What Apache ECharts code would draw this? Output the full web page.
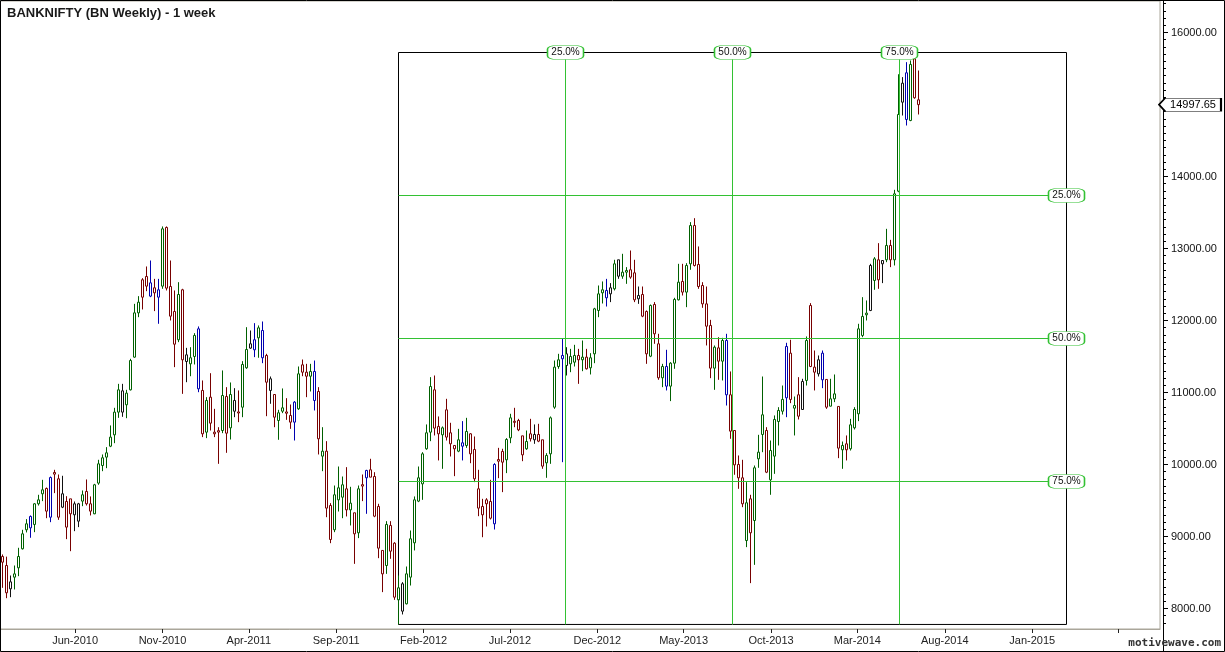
<!DOCTYPE html>
<html>
<head>
<meta charset="utf-8">
<script src="https://cdn.jsdelivr.net/npm/echarts@6/dist/echarts.min.js"></script>
<style>
html,body{margin:0;padding:0;background:#fff;}
#chart{width:1225px;height:652px;}
</style>
</head>
<body>
<div id="chart"></div>
<script>
// ---- Data (weekly candles, first week starting 2010-01-25) ----
const firstWeek = '2010-01-25';
const opens = [
8722,8597,8273,8435,8565,8829,9093,9120,9167,9454,
9593,9667,9268,9889,9801,9407,9486,9315,9301,9454,
9491,9625,9454,9315,9741,9986,10102,10254,10412,10727,
11023,10829,11037,11491,12106,12324,12611,12523,12384,12426,
12477,13292,12472,12125,11732,12426,11523,11398,11500,11884,
11028,10449,10935,10449,10470,10472,10944,10509,10889,10730,
10796,11343,11616,11593,11759,11861,11514,11190,10972,10611,
10740,10730,10681,10588,10773,11282,11282,11226,11292,11014,
10185,10185,9431,9093,9509,9546,9662,9370,9329,9051,
9700,9815,9926,9833,9417,8806,8597,9153,8907,8120,
8343,8065,8435,8912,9491,9731,10218,10449,11037,10528,
10412,10759,10440,10264,10185,10301,10264,10426,10208,9662,
9417,9454,9486,9176,10069,10181,10065,10370,10600,10611,
10398,10218,10357,10343,10417,10343,10023,10148,10796,11361,
11468,11537,11398,11421,11514,11454,11491,11343,11537,12139,
12384,12417,12370,12440,12843,12615,12694,12704,12662,12301,
12361,12125,11504,12222,11676,11204,11361,11088,11407,12287,
12542,12394,12787,13319,12778,12486,12231,11931,11338,11620,
11435,11722,10968,10472,10000,9815,8944,9523,9222,10079,
10417,10472,9787,10116,10597,10740,10926,11546,10819,10968,
10764,11167,12208,11352,11259,11546,11181,10810,10912,10806,
10204,10287,10218,10509,10704,11792,12102,12139,12856,12565,
12833,12843,13042,12843,13796,15032,15440,14778,15634,15065];
const closes = [
8643,8218,8370,8481,8722,9037,9176,9278,9454,9509,
9648,9352,9819,9866,9268,9593,9130,9523,9454,9213,
9579,9454,9352,9718,10009,10093,10162,10380,10727,11037,
10727,10991,11444,12106,12254,12565,12477,12338,12454,12324,
13273,12449,12060,11671,12361,11454,11430,11482,11792,11051,
10426,10889,10574,10426,10450,10958,10435,10972,10740,10715,
11389,11597,11676,11732,11898,11482,11143,11028,10657,10718,
10787,10712,10588,10866,11259,11384,11226,11292,10889,10357,
10116,9394,8958,9579,9676,9718,9370,9463,9037,9662,
9720,9917,9824,9282,8838,8481,9167,8796,8157,8287,
7963,8481,8968,9509,9815,10148,10440,11083,10505,10426,
10509,10380,10287,10218,10343,10254,10458,10148,9801,9394,
9301,9509,9254,10000,10046,10032,10347,10648,10585,10481,
10134,10319,10426,10417,10324,9977,10125,10648,11352,11454,
11514,11375,11500,11514,11454,11491,11329,11482,12162,12370,
12426,12315,12454,12787,12615,12671,12671,12602,12287,12347,
12060,11537,12208,11815,11204,11361,11088,11407,12292,12532,
12394,12764,13319,12764,12472,12231,11921,11338,11629,11435,
11722,10968,10463,9995,9815,9454,9468,9051,9954,10171,
10690,9893,10194,10625,10750,10903,11639,10903,10782,10671,
11153,11722,11361,11282,11454,11176,10796,10912,10981,10227,
10264,10204,10551,10764,11884,12056,12079,12764,12556,12843,
12787,13042,12843,13759,14861,15296,14792,15556,15093,14997.65];
const lows = [
8287,8143,8157,8264,8449,8819,9056,8982,9060,9430,
9491,9254,9199,9602,9231,9394,8963,8796,9074,9130,
9421,9430,9292,9310,9718,9907,9949,10241,10296,10648,
10662,10643,11028,11482,12046,12153,12407,12324,12130,11954,
12440,12417,12000,11352,11699,10981,11143,11226,11389,11004,
10380,10366,10472,10380,10009,10435,10162,10347,10657,10588,
10657,11329,11606,11491,11482,11407,10671,10843,10518,10343,
10713,10620,10495,10333,10759,11226,10935,11014,10750,10139,
9907,9268,8907,9060,9347,9254,9278,9153,8620,8977,
9491,9315,9824,9268,8699,8227,8481,8690,8120,7778,
7917,8056,8319,8806,9477,9509,10204,10324,10403,10056,
9940,10333,10111,9838,10171,10056,10231,10018,9755,9282,
8990,9139,9236,9097,9810,9616,9880,10296,10518,10463,
10046,10204,10319,10287,10310,9940,9815,10009,10773,11329,
10032,11236,11282,11361,11120,11296,11319,11250,11407,12046,
12236,12194,12255,12417,12579,12579,12509,12579,12255,12231,
12046,11398,11491,11676,11176,11074,11028,10880,11329,12278,
12347,12185,12704,12750,12440,12176,11653,11199,11037,11176,
11167,10819,10357,9857,9662,9407,8852,8352,8606,9954,
10171,9880,9579,9870,10264,10694,10657,10852,10403,10625,
10759,11097,11352,11028,11222,11060,10773,10806,10866,10088,
9940,10056,10194,10486,10602,11768,12000,12130,12426,12440,
12519,12810,12741,12764,13782,14847,14708,14768,15080,14861];
const highs = [
8750,8720,8458,8597,8843,9093,9241,9292,9463,9579,
9787,9680,9833,9926,9861,9843,9560,9523,9486,9467,
9639,9792,9556,9731,10065,10139,10241,10542,10787,11120,
11120,11037,11468,12231,12338,12588,12750,12833,12578,12578,
13306,13306,12833,12417,12532,12440,11620,11629,11824,11917,
11167,10935,11268,10773,10518,11306,11074,11139,11060,11028,
11435,11907,11861,11963,11931,11986,11537,11222,10972,10759,
11056,10921,10833,10880,11361,11458,11398,11398,11444,11074,
10518,10324,9463,9708,9972,9833,9963,9690,9329,9708,
9861,9926,10079,9893,9454,8806,9213,9213,8921,8458,
8366,8583,9083,9556,9972,10171,10556,11213,11236,10667,
10528,10912,10579,10264,10495,10602,10648,10435,10389,9926,
9523,9532,9787,10018,10231,10218,10366,10704,10787,10634,
10398,10472,10634,10556,10565,10343,10157,10667,11444,11537,
11746,11629,11606,11662,11606,11722,11606,11546,12176,12486,
12542,12578,12519,12843,12843,12926,12741,12972,12843,12472,
12472,12139,12222,12255,11815,11398,11593,11421,12315,12787,
12787,12796,13366,13421,13028,12532,12472,12009,11653,11768,
11759,11815,11292,10472,10125,10065,9755,9579,9986,10412,
11222,10518,10333,10681,10796,11097,11690,11732,10944,11213,
11190,11778,12241,11583,11514,11583,11181,11190,11250,10806,
10319,10403,10634,10796,11954,12324,12278,12787,12880,13074,
12833,13273,13120,13815,15420,15380,15588,15611,15722,15472];
// bar colour class: g=green, r=red, b=blue, k=black
const barClass = (
'rrkggggbgg' + 'grbrrkrrkk' + 'grrggggggg' + 'kggggrrbrb' + 'grrrgrkggb' +
'rgrrrgrgkr' + 'ggkbgbrkrg' + 'grrbgrrgbr' + 'grrgggrgrg' + 'rbrrrrgrrg' +
'kgggggggrr' + 'grrrgbgrrr' + 'rrrbrrggrr' + 'rgrkrrgggg' + 'bkggrgrggg' +
'gbkgkggrrk' + 'rrgrrgbggg' + 'rggrrrrrgr' + 'gbrrrrgrgg' + 'grggggbrgr' +
'kgrrkbrggr' + 'grgggggkgr' + 'kgrggkbgrr').split('');

// Fibonacci time / price box: from the lowest low to the highest high
const fibLevels = [0.25, 0.5, 0.75];
const fibLabels = ['25.0%', '50.0%', '75.0%'];
const fibEndWeek = 266;   // right edge of the time box (week index)

// x axis month ticks
const tickMonths = ['2010-06','2010-11','2011-04','2011-09','2012-02','2012-07','2012-12','2013-05','2013-10','2014-03','2014-08','2015-01','2015-06'];
const tickLabels = ['Jun-2010','Nov-2010','Apr-2011','Sep-2011','Feb-2012','Jul-2012','Dec-2012','May-2013','Oct-2013','Mar-2014','Aug-2014','Jan-2015',''];
const yMajor = [8000,9000,10000,11000,12000,13000,14000,15000,16000];
const yMinorStep = 100;

// ---- build ----
const WEEK = 7 * 864e5;
const t0 = Date.parse(firstWeek + 'T00:00:00Z');
const tickPos = tickMonths.map(m => (Date.parse(m + '-01T00:00:00Z') - t0) / WEEK);
const labelPos = tickPos.filter((p, i) => tickLabels[i] !== '');

const fibLow = Math.min(...lows), fibHigh = Math.max(...highs);
const fibStart = lows.indexOf(fibLow), fibEnd = fibEndWeek;

const palette = {
  g: {fill: '#006c00', line: '#006000'},
  r: {fill: '#b00000', line: '#780000'},
  b: {fill: '#0000c8', line: '#0000b0'},
  k: {fill: '#1a1a1a', line: '#111111'}
};
const candles = opens.map((o, i) => {
  const p = palette[barClass[i]] || palette.g;
  return {
    value: [i, o, closes[i], lows[i], highs[i]],
    itemStyle: {color: '#ffffff', color0: p.fill, borderColor: p.line, borderColor0: p.line, borderWidth: 1}
  };
});

const GREEN = '#33c133';
const priceLevels = fibLevels.map(p => fibHigh - p * (fibHigh - fibLow));
const timeLevels = fibLevels.map(p => fibStart + p * (fibEnd - fibStart));
const lastClose = closes[closes.length - 1];

const markLines = [];
priceLevels.forEach(v => markLines.push([{coord: [fibStart, v]}, {coord: [fibEnd, v]}]));
timeLevels.forEach(t => markLines.push([{coord: [t, fibLow]}, {coord: [t, fibHigh]}]));

const labelStyle = {
  symbol: 'roundRect', symbolSize: [36, 14],
  itemStyle: {color: '#ffffff', borderColor: GREEN, borderWidth: 1},
  label: {show: true, position: 'inside', color: '#111', fontSize: 10, fontFamily: 'Liberation Sans'}
};
const markPoints = [];
priceLevels.forEach((v, i) => markPoints.push(Object.assign({coord: [fibEnd, v], name: fibLabels[i]}, labelStyle)));
timeLevels.forEach((t, i) => markPoints.push(Object.assign({coord: [t, fibHigh], name: fibLabels[i]}, labelStyle)));

const XMIN = -0.625, XMAX = 289.375;
const YMIN = 7715.06, YMAX = 16437.28;
const yMinor = []; for (let v = 7800; v <= 16400; v += yMinorStep) yMinor.push(v);
markPoints.push({
  coord: [XMAX, lastClose], name: lastClose.toFixed(2),
  symbol: 'path://M0,6 L6,0 L62,0 L62,12 L6,12 Z', symbolKeepAspect: false,
  symbolSize: [62, 13], symbolOffset: [30, 0],
  itemStyle: {color: '#ffffff', borderColor: '#000', borderWidth: 1},
  label: {show: true, position: 'inside', offset: [3, 0], color: '#000', fontSize: 11, fontFamily: 'Liberation Sans'}
});

const chart = echarts.init(document.getElementById('chart'), null, {renderer: 'canvas'});
chart.setOption({
  animation: false,
  backgroundColor: '#ffffff',
  title: {
    text: 'BANKNIFTY (BN Weekly) - 1 week', left: 2, top: 2, padding: [5, 5],
    textStyle: {fontSize: 13, fontWeight: 'bold', color: '#1a1a1a', fontFamily: 'Liberation Sans'}
  },
  grid: {left: 0, right: 65, top: 1, bottom: 23, show: true, borderColor: '#aaa69a', borderWidth: 1, backgroundColor: 'transparent'},
  xAxis: {
    type: 'value', min: XMIN, max: XMAX,
    axisLine: {show: true, onZero: false, lineStyle: {color: '#aaa69a'}},
    axisTick: {show: true, length: 4, lineStyle: {color: '#222'}, customValues: tickPos},
    axisLabel: {
      show: true, margin: 6, color: '#222', fontSize: 11, fontFamily: 'Liberation Sans',
      customValues: labelPos,
      formatter: v => { const k = tickPos.findIndex(p => Math.abs(p - v) < 1e-6); return k >= 0 ? tickLabels[k] : ''; }
    },
    splitLine: {show: false}
  },
  yAxis: [{
    type: 'value', position: 'right', offset: 3, min: YMIN, max: YMAX,
    axisLine: {show: true, onZero: false, lineStyle: {color: '#000'}},
    axisTick: {show: true, length: 3, lineStyle: {color: '#000'}, customValues: yMinor},
    axisLabel: {show: true, margin: 8, color: '#111', fontSize: 11, fontFamily: 'Liberation Sans',
      customValues: yMajor, formatter: v => v.toFixed(2)},
    splitLine: {show: false}
  }, {
    type: 'value', position: 'right', offset: 3, min: YMIN, max: YMAX,
    axisLine: {show: false, onZero: false},
    axisTick: {show: true, length: 5, lineStyle: {color: '#000'}, customValues: yMajor},
    axisLabel: {show: false},
    splitLine: {show: false}
  }],
  series: [{
    type: 'candlestick',
    clip: false,
    barWidth: 2,
    encode: {x: 0, y: [1, 2, 3, 4]},
    data: candles,
    markArea: {
      silent: true,
      itemStyle: {color: 'rgba(0,0,0,0)', borderColor: '#000', borderWidth: 1},
      data: [[{coord: [fibStart, fibHigh]}, {coord: [fibEnd, fibLow]}]]
    },
    markLine: {
      silent: true, symbol: ['none', 'none'],
      label: {show: false},
      lineStyle: {color: GREEN, width: 1, type: 'solid'},
      data: markLines
    },
    markPoint: {
      silent: true,
      label: {formatter: '{b}'},
      data: markPoints
    }
  }],
  graphic: [
    {type: 'rect', silent: true, z: 100, shape: {x: 0.5, y: 0.5, width: 1224, height: 651}, style: {fill: 'none', stroke: '#000', lineWidth: 1}},
    {type: 'line', silent: true, z: 100, shape: {x1: 1163.5, y1: 629, x2: 1163.5, y2: 652}, style: {stroke: '#000', lineWidth: 1}},
    {type: 'text', silent: true, z: 100, right: 4, bottom: 3,
      style: {text: 'motivewave.com', fill: '#333', font: 'bold 11px "DejaVu Sans Mono"'}}
  ]
});
</script>
</body>
</html>
